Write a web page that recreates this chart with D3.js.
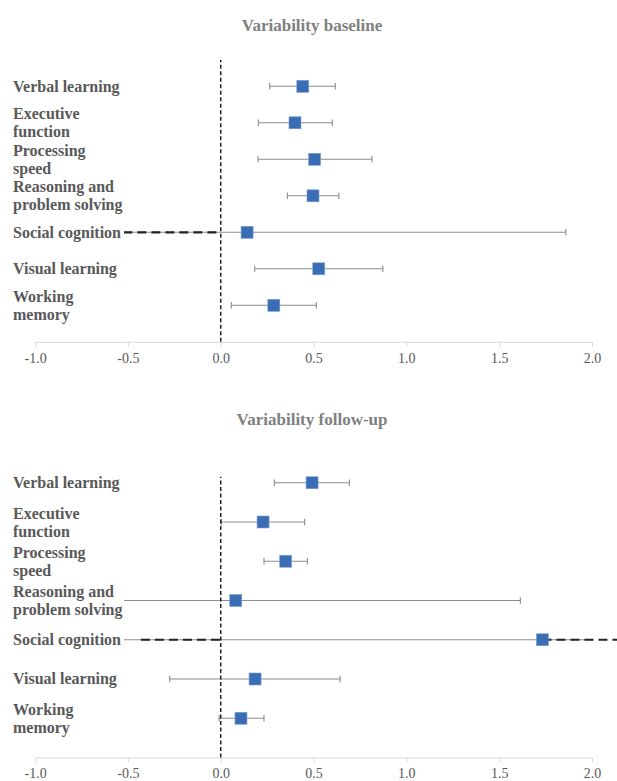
<!DOCTYPE html>
<html>
<head>
<meta charset="utf-8">
<script src="https://cdn.jsdelivr.net/npm/d3@7"></script>
<style>
  html, body { margin: 0; padding: 0; background: #fff; }
  svg { display: block; }
</style>
</head>
<body>
<svg id="chart" width="617" height="781"></svg>
<script>
// Cognitive domains, listed top to bottom
const categories = [
  "Verbal learning", "Executive function", "Processing speed",
  "Reasoning and problem solving", "Social cognition",
  "Visual learning", "Working memory"
];
const labelLines = [
  ["Verbal learning"], ["Executive", "function"], ["Processing", "speed"],
  ["Reasoning and", "problem solving"], ["Social cognition"],
  ["Visual learning"], ["Working", "memory"]
];

// Baseline variability: point estimate with lower / upper interval
const baselineEst  = [0.442, 0.400, 0.506, 0.497, 0.142, 0.528, 0.286];
const baselineLow  = [0.264, 0.203, 0.201, 0.359, -0.60, 0.183, 0.057];
const baselineHigh = [0.617, 0.601, 0.815, 0.636, 1.859, 0.873, 0.515];

// Follow-up variability
const followEst  = [0.492, 0.228, 0.350, 0.081, 1.733, 0.185, 0.109];
const followLow  = [0.289, 0.003, 0.233, -0.75, -0.90, -0.275, -0.009];
const followHigh = [0.693, 0.452, 0.467, 1.614, 2.30, 0.643, 0.233];

// x axis ticks
const xTicks = [-1.0, -0.5, 0.0, 0.5, 1.0, 1.5, 2.0];

// Reference lines: vertical zero line and dashed horizontal segments (x, row)
const baselineZero = [[0, 0], [0, 7.72]];
const baselineDash = [[[-0.6, 3], [0, 3]]];
const followZero = [[0, 0], [0, 7.15]];
const followDash = [[[-0.43, 3], [0, 3]], [[1.733, 3], [2.15, 3]]];

const svg = d3.select("#chart");
const FONT = "'Liberation Serif', 'Times New Roman', serif";

function drawPanel(cfg) {
  const g = svg.append("g");
  const x = d3.scaleLinear().domain([-1, 2]).range([35.1, 592]);
  const y = d3.scaleLinear().domain([0, 8]).range([cfg.axisY, cfg.axisY - 8 * cfg.step]);
  const rows = categories.map((c, i) => ({
    name: c, lines: labelLines[i], row: 7 - i,
    est: cfg.est[i], lo: cfg.lo[i], hi: cfg.hi[i]
  }));

  // title
  g.append("text")
    .attr("x", 312).attr("y", cfg.titleY)
    .attr("text-anchor", "middle")
    .attr("font-family", FONT).attr("font-weight", "bold")
    .attr("font-size", 17).attr("fill", "#808080")
    .text(cfg.title);

  // x axis
  const axis = d3.axisBottom(x).tickValues(xTicks)
    .tickFormat(d => d.toFixed(1))
    .tickSizeInner(5).tickSizeOuter(0).tickPadding(6);
  const ax = g.append("g").attr("transform", `translate(0,${cfg.axisY})`).call(axis);
  ax.select(".domain").attr("stroke", "#d9d9d9").attr("stroke-width", 1);
  ax.selectAll(".tick line").attr("stroke", "#d9d9d9");
  ax.selectAll(".tick text")
    .attr("font-family", FONT).attr("font-size", 14).attr("fill", "#595959");

  // clip interval lines to the plotted x range
  const clipId = "clip-" + cfg.id;
  g.append("clipPath").attr("id", clipId)
    .append("rect").attr("x", x(-1)).attr("y", 0)
    .attr("width", x(2) - x(-1)).attr("height", 781);

  const lineGen = d3.line().x(d => x(d[0])).y(d => y(d[1]));

  // interval whiskers
  const eb = g.append("g").attr("clip-path", `url(#${clipId})`);
  eb.selectAll("line.ci").data(rows).join("line")
    .attr("class", "ci")
    .attr("x1", d => x(d.lo)).attr("x2", d => x(d.hi))
    .attr("y1", d => y(d.row)).attr("y2", d => y(d.row))
    .attr("stroke", "#8c8c8c").attr("stroke-width", 1.1);
  const caps = [];
  rows.forEach(d => { caps.push({ v: d.lo, row: d.row }); caps.push({ v: d.hi, row: d.row }); });
  eb.selectAll("line.cap").data(caps).join("line")
    .attr("class", "cap")
    .attr("x1", d => x(d.v)).attr("x2", d => x(d.v))
    .attr("y1", d => y(d.row) - 3.2).attr("y2", d => y(d.row) + 3.2)
    .attr("stroke", "#8c8c8c").attr("stroke-width", 1.1);

  // vertical zero line
  g.append("path").attr("d", lineGen(cfg.zero))
    .attr("fill", "none").attr("stroke", "#222")
    .attr("stroke-width", 1.5).attr("stroke-dasharray", "4,2.5");

  // dashed horizontal segments
  g.selectAll("path.dash").data(cfg.dash).join("path")
    .attr("class", "dash")
    .attr("d", d => lineGen(d))
    .attr("fill", "none").attr("stroke", "#222")
    .attr("stroke-width", 2.2).attr("stroke-dasharray", "9,5");

  // point estimates
  g.selectAll("rect.pt").data(rows).join("rect")
    .attr("class", "pt")
    .attr("x", d => x(d.est) - 6).attr("y", d => y(d.row) - 6)
    .attr("width", 12).attr("height", 12)
    .attr("fill", "#3b6db5").attr("stroke", "#7e9fd2").attr("stroke-width", 0.6);

  // category label block with white background
  g.append("rect")
    .attr("x", 0).attr("y", y(7) - 22)
    .attr("width", 124).attr("height", y(1) - y(7) + 44)
    .attr("fill", "#fff");
  const lab = g.selectAll("text.cat").data(rows).join("text")
    .attr("class", "cat")
    .attr("font-family", FONT).attr("font-weight", "bold")
    .attr("font-size", 16).attr("fill", "#595959");
  lab.each(function(d) {
    const t = d3.select(this);
    const base = d.lines.length === 1 ? y(d.row) + 5.3 : y(d.row) - 3.5;
    d.lines.forEach((s, k) => {
      t.append("tspan").attr("x", 13).attr("y", base + k * 18).text(s);
    });
  });
}

drawPanel({
  id: "base", title: "Variability baseline", titleY: 31,
  axisY: 341.8, step: 36.5,
  est: baselineEst, lo: baselineLow, hi: baselineHigh,
  zero: baselineZero, dash: baselineDash
});

drawPanel({
  id: "follow", title: "Variability follow-up", titleY: 425,
  axisY: 757.5, step: 39.25,
  est: followEst, lo: followLow, hi: followHigh,
  zero: followZero, dash: followDash
});
</script>
</body>
</html>
